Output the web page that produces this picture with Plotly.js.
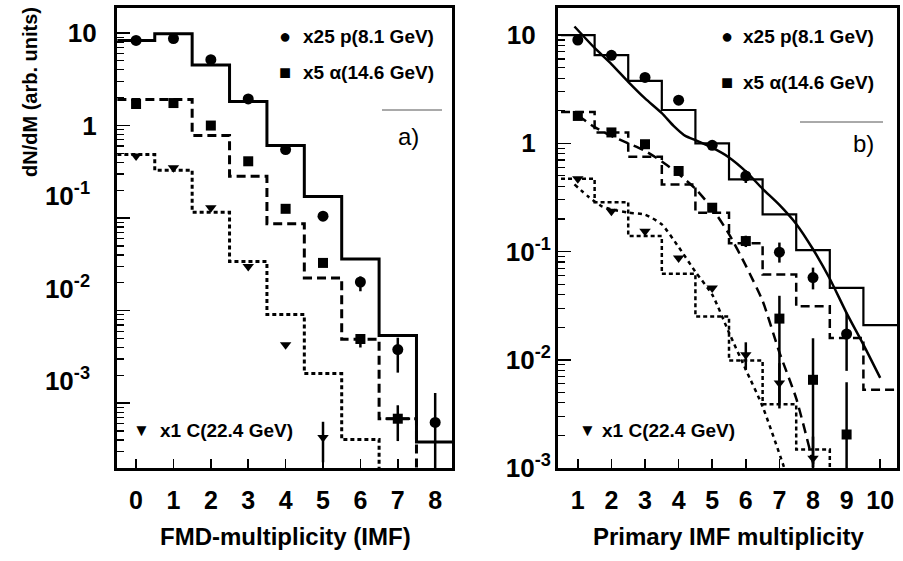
<!DOCTYPE html>
<html>
<head>
<meta charset="utf-8">
<script src="https://cdn.plot.ly/plotly-3.0.1.min.js"></script>
<style>html,body{margin:0;padding:0;background:#fff;}#chart{width:903px;height:561px;}</style>
</head>
<body>
<div id="chart"></div>
<script>
// ---------- Panel a: FMD multiplicity ----------
const multA = [0, 1, 2, 3, 4, 5, 6, 7, 8];
const protonHistA = [8.3, 9.8, 4.5, 1.82, 0.61, 0.171, 0.0362, 0.0054, 0.00038];
const protonPtsA  = [8.3, 8.7, 5.15, 1.94, 0.55, 0.105, 0.0204, 0.0038, 0.00062];
const protonHiA   = [null, null, null, null, null, null, 0.0234, 0.0051, 0.00129];
const protonLoA   = [null, null, null, null, null, null, 0.0162, 0.00214, 0.00016];

const alphaHistA = [1.91, 1.91, 0.78, 0.283, 0.087, 0.0226, 0.0049, 0.00068, 0.00001];
const alphaPtsA  = [1.71, 1.75, 1.0, 0.411, 0.126, 0.0328, 0.00494, 0.00068];
const alphaHiA   = [null, null, null, null, null, null, 0.0055, 0.00095];
const alphaLoA   = [null, null, null, null, null, null, 0.0040, 0.00039];
const alphaErrXA = [0, 0, 0, 0, 0, 0, 0, 0.33];

const carbonHistA = [0.486, 0.329, 0.1156, 0.034, 0.00906, 0.00209, 0.000405, 0.00001];
const carbonPtsA  = [0.47, 0.349, 0.129, 0.030, 0.00428, 0.000427];
const carbonHiA   = [null, null, null, null, null, 0.00063];
const carbonLoA   = [null, null, null, null, null, 0.00023];

// ---------- Panel b: primary IMF multiplicity ----------
const multB = [1, 2, 3, 4, 5, 6, 7, 8, 9, 10];
const protonHistB = [10, 6.53, 3.78, 2.03, 1.0, 0.464, 0.22, 0.103, 0.0461, 0.0209];
const protonPtsB  = [9.0, 6.5, 4.06, 2.5, 0.958, 0.5, 0.0986, 0.0575, 0.0173];
const protonHiB   = [null, null, null, null, null, 0.56, 0.121, 0.071, 0.0272];
const protonLoB   = [null, null, null, null, null, 0.43, 0.079, 0.0447, 0.0079];

const alphaHistB = [1.95, 1.26, 0.753, 0.417, 0.228, 0.119, 0.0612, 0.0312, 0.0159, 0.00527];
const alphaPtsB  = [1.79, 1.26, 0.98, 0.555, 0.254, 0.125, 0.024, 0.00653, 0.00204];
const alphaHiB   = [null, null, null, null, null, 0.14, 0.039, 0.0158, 0.0062];
const alphaLoB   = [null, null, null, null, null, 0.11, 0.00355, 0.0008, 0.0008];

const carbonHistB = [0.471, 0.286, 0.139, 0.0622, 0.0251, 0.00985, 0.00389, 0.00148, 0.00001];
const carbonPtsB  = [0.47, 0.236, 0.154, 0.0873, 0.0461, 0.0111, 0.0061, 0.00123];
const carbonHiB   = [null, null, null, null, null, 0.0145, 0.0093, 0.00195];
const carbonLoB   = [null, null, null, null, null, 0.0081, 0.0040, 0.00102];

// model curves (panel b)
const protonCurveX = [0.9, 1.5, 2, 2.5, 3, 3.5, 3.85, 4.2, 4.5, 5, 5.5, 6, 6.5, 7, 7.5, 8, 8.5, 9, 9.5, 10];
const protonCurveY = [12.0, 7.6, 5.4, 3.7, 2.6, 1.9, 1.45, 1.17, 1.07, 0.91, 0.74, 0.55, 0.38, 0.27, 0.18, 0.105, 0.056, 0.027, 0.0138, 0.0068];
const alphaCurveX = [1, 1.5, 2, 2.5, 3, 3.5, 4, 4.5, 5, 5.5, 6, 6.5, 7, 7.5, 8, 8.1];
const alphaCurveY = [1.82, 1.41, 1.17, 1.0, 0.85, 0.68, 0.52, 0.38, 0.25, 0.145, 0.074, 0.035, 0.0117, 0.0044, 0.00112, 0.0008];
const carbonCurveX = [0.9, 1.3, 1.7, 2.0, 2.5, 3.0, 3.5, 4.0, 4.5, 5.0, 5.5, 6.0, 6.5, 7.1, 7.2];
const carbonCurveY = [0.417, 0.324, 0.263, 0.245, 0.229, 0.219, 0.178, 0.11, 0.065, 0.04, 0.0178, 0.0081, 0.0037, 0.0011, 0.00089];

// tick labels
const yTickVals = [0.001, 0.01, 0.1, 1, 10];
const NB = '\u00a0\u00a0\u00a0';
const NB2 = '\u00a0\u00a0';
const yTickTextB = ['10<sup>-3</sup>', '10<sup>-2</sup>', '10<sup>-1</sup>', '1<sup>' + NB + '</sup>', '10<sup>' + NB + '</sup>'];
const yTickTextAPlain = ['', '', '', '1<sup>' + NB2 + '</sup>', '10<sup>' + NB2 + '</sup>'];
const yTickValsAExp = [0.001, 0.01, 0.1];
const yTickTextAExp = ['10<sup>-3</sup>', '10<sup>-2</sup>', '10<sup>-1</sup>'];

// ---------- helpers ----------
const FONT = 'Liberation Sans, Arial, Helvetica, sans-serif';
const W = 903, H = 561;
const px = v => v / W;
const py = v => 1 - v / H;

const minorVals = [];
for (let d = -5; d <= 1; d++) for (let k = 2; k <= 9; k++) minorVals.push(k * Math.pow(10, d));

function steps(centers, vals) {
  const xs = [], ys = [];
  vals.forEach((v, i) => { xs.push(centers[i] - 0.5, centers[i] + 0.5); ys.push(v, v); });
  return { x: xs, y: ys };
}
function hist(centers, vals, dash, width, xa, ya) {
  const s = steps(centers, vals);
  return { x: s.x, y: s.y, mode: 'lines', type: 'scatter', xaxis: xa, yaxis: ya,
    line: { color: '#000', width: width, dash: dash }, hoverinfo: 'skip', showlegend: false };
}
function pts(centers, vals, hi, lo, symbol, size, xa, ya, errx) {
  const xs = centers.slice(0, vals.length);
  const plus = vals.map((v, i) => (hi[i] != null ? hi[i] - v : 0));
  const minus = vals.map((v, i) => (lo[i] != null ? v - lo[i] : 0));
  const t = { x: xs, y: vals, mode: 'markers', type: 'scatter', xaxis: xa, yaxis: ya,
    marker: { symbol: symbol, size: size, color: '#000' },
    error_y: { type: 'data', symmetric: false, array: plus, arrayminus: minus, color: '#000', thickness: 2.5, width: 0 },
    showlegend: false };
  if (errx) t.error_x = { type: 'data', array: errx, color: '#000', thickness: 2.5, width: 0 };
  return t;
}
function curve(xs, ys, dash, width) {
  return { x: xs, y: ys, mode: 'lines', type: 'scatter', xaxis: 'x2', yaxis: 'y2',
    line: { color: '#000', width: width, dash: dash, shape: 'spline', smoothing: 0.6 }, showlegend: false };
}

const DASH = '9px,5px';
const DOT = '4px,3px';

const traces = [
  hist(multA, protonHistA, 'solid', 3, 'x', 'y'),
  hist(multA, alphaHistA, DASH, 3, 'x', 'y'),
  hist(multA.slice(0, carbonHistA.length), carbonHistA, DOT, 3, 'x', 'y'),
  pts(multA, protonPtsA, protonHiA, protonLoA, 'circle', 11, 'x', 'y'),
  pts(multA, alphaPtsA, alphaHiA, alphaLoA, 'square', 10, 'x', 'y', alphaErrXA),
  pts(multA, carbonPtsA, carbonHiA, carbonLoA, 'triangle-down', 10, 'x', 'y'),
  { x: [], y: [], type: 'scatter', mode: 'markers', xaxis: 'x', yaxis: 'y3', showlegend: false },

  hist(multB, protonHistB, 'solid', 2.2, 'x2', 'y2'),
  hist(multB, alphaHistB, DASH, 2.5, 'x2', 'y2'),
  hist(multB.slice(0, carbonHistB.length), carbonHistB, DOT, 2.5, 'x2', 'y2'),
  curve(protonCurveX, protonCurveY, 'solid', 2.5),
  curve(alphaCurveX, alphaCurveY, '10px,6px', 2.5),
  curve(carbonCurveX, carbonCurveY, '4px,4px', 2.5),
  pts(multB, protonPtsB, protonHiB, protonLoB, 'circle', 11, 'x2', 'y2'),
  pts(multB, alphaPtsB, alphaHiB, alphaLoB, 'square', 10, 'x2', 'y2'),
  pts(multB, carbonPtsB, carbonHiB, carbonLoB, 'triangle-down', 10, 'x2', 'y2')
];

const tickFont = { family: FONT, size: 26, color: '#000', weight: 'bold' };
function xax(domain, range, vals, anchor) {
  return { domain: domain, range: range, tickmode: 'array', tickvals: vals, ticktext: vals.map(String),
    ticks: 'inside', ticklen: 9, tickwidth: 1.5, tickcolor: '#000',
    showline: true, linewidth: 3, linecolor: '#000', mirror: true,
    showgrid: false, zeroline: false, tickfont: { family: FONT, size: 25, color: '#000', weight: 'bold' },
    anchor: anchor, ticklabelstandoff: 8 };
}
function yax(domain, range, anchor, standoff, ticktext) {
  return { type: 'log', domain: domain, range: range, tickmode: 'array', tickvals: yTickVals, ticktext: ticktext,
    ticks: 'inside', ticklen: 13, tickwidth: 1.5, tickcolor: '#000',
    minor: { tickmode: 'array', tickvals: minorVals, ticks: 'inside', ticklen: 7, tickwidth: 1.2, tickcolor: '#000', showgrid: false },
    showline: true, linewidth: 3, linecolor: '#000', mirror: true,
    showgrid: false, zeroline: false, tickfont: tickFont, anchor: anchor, ticklabelstandoff: standoff };
}

const yDom = [py(468), py(8)];
const rangeA = [-3.70, 1.27];
const bold = (size) => ({ family: FONT, size: size, color: '#000', weight: 'bold' });
function ann(x, y, text, font, xanchor, extra) {
  return Object.assign({ xref: 'paper', yref: 'paper', x: px(x), y: py(y), text: text, showarrow: false,
    font: font, xanchor: xanchor || 'left', yanchor: 'middle' }, extra || {});
}

const layout = {
  width: W, height: H, margin: { l: 0, r: 0, t: 0, b: 0 },
  paper_bgcolor: '#fff', plot_bgcolor: '#fff', showlegend: false,
  xaxis: xax([px(117), px(452)], [-0.51, 8.45], multA, 'y'),
  yaxis: yax(yDom, rangeA, 'x', 2, yTickTextAPlain),
  yaxis3: { type: 'log', overlaying: 'y', anchor: 'x', side: 'left', range: rangeA,
    tickmode: 'array', tickvals: yTickValsAExp, ticktext: yTickTextAExp, ticks: '',
    showline: false, showgrid: false, zeroline: false, tickfont: tickFont,
    ticklabelstandoff: 26, ticklabelshift: -22 },
  xaxis2: xax([px(558), px(897)], [0.41, 10.5], multB, 'y2'),
  yaxis2: yax(yDom, [-3.0, 1.25], 'x2', -1, yTickTextB),
  annotations: [
    ann(30, 92, 'dN/dM (arb. units)', bold(20), 'center', { textangle: -90 }),
    ann(285, 536, 'FMD-multiplicity (IMF)', bold(24), 'center'),
    ann(728, 536, 'Primary IMF multiplicity', bold(24), 'center'),
    // panel a key
    ann(285, 36, '\u25CF', bold(20), 'center'),
    ann(301, 36, 'x25 p(8.1 GeV)', bold(19)),
    ann(285, 72, '\u25A0', bold(20), 'center'),
    ann(301, 72, 'x5 \u03B1(14.6 GeV)', bold(19)),
    ann(408, 137, 'a)', { family: FONT, size: 24, color: '#000' }, 'center'),
    ann(141, 430, '\u25BC', bold(17), 'center'),
    ann(158, 430, 'x1 C(22.4 GeV)', bold(19)),
    // panel b key
    ann(727, 36, '\u25CF', bold(20), 'center'),
    ann(741, 36, 'x25 p(8.1 GeV)', bold(19)),
    ann(727, 82, '\u25A0', bold(20), 'center'),
    ann(741, 82, 'x5 \u03B1(14.6 GeV)', bold(19)),
    ann(863, 143, 'b)', { family: FONT, size: 24, color: '#000' }, 'center'),
    ann(587, 430, '\u25BC', bold(17), 'center'),
    ann(600, 430, 'x1 C(22.4 GeV)', bold(19))
  ],
  shapes: [
    { type: 'line', xref: 'paper', yref: 'paper', x0: px(382), x1: px(442), y0: py(110), y1: py(110), line: { color: '#555', width: 1 } },
    { type: 'line', xref: 'paper', yref: 'paper', x0: px(800), x1: px(883), y0: py(122), y1: py(122), line: { color: '#555', width: 1 } }
  ]
};

Plotly.newPlot('chart', traces, layout, { staticPlot: true, displayModeBar: false });
</script>
</body>
</html>
